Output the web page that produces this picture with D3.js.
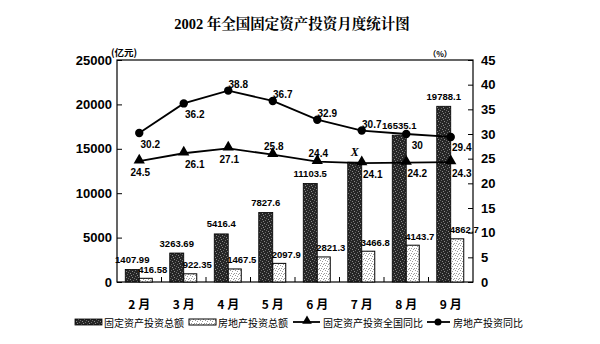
<!DOCTYPE html>
<html>
<head>
<meta charset="utf-8">
<script src="https://cdn.jsdelivr.net/npm/d3@7/dist/d3.min.js"></script>
<style>
  html, body { margin: 0; padding: 0; background: #fff; }
  svg { display: block; }
  text { fill: #000; }
</style>
</head>
<body>
<svg id="chart" width="600" height="344"></svg>
<script>
// Monthly figures, 2002
const months = ["2 月", "3 月", "4 月", "5 月", "6 月", "7 月", "8 月", "9 月"];
const fixedInvest = [1407.99, 3263.69, 5416.4, 7827.6, 11103.5, 13500, 16535.1, 19788.1];
const fixedInvestLabels = ["1407.99", "3263.69", "5416.4", "7827.6", "11103.5", "X", "16535.1", "19788.1"];
const estateInvest = [416.58, 922.35, 1467.5, 2097.9, 2821.3, 3466.8, 4143.7, 4862.7];
const estateInvestLabels = ["416.58", "922.35", "1467.5", "2097.9", "2821.3", "3466.8", "4143.7", "4862.7"];
const fixedYoY = [24.5, 26.1, 27.1, 25.8, 24.4, 24.1, 24.2, 24.3];
const estateYoY = [30.2, 36.2, 38.8, 36.7, 32.9, 30.7, 30, 29.4];
const leftTicks = [0, 5000, 10000, 15000, 20000, 25000];
const rightTicks = [0, 5, 10, 15, 20, 25, 30, 35, 40, 45];

// where each line label sits relative to its point
const estateLabelSide = ["br", "br", "ar", "ar", "ar", "ar", "br", "br"];
const fixedLabelSide = ["b", "br", "b", "a", "a", "br", "br", "br"];
const sideOffset = {
  a: [1, -8], b: [1, 11], ar: [10, -6], br: [11, 11]
};

const svg = d3.select("#chart");
const W = 600, H = 344;
const plot = { left: 117, right: 473, top: 60, bottom: 282 };
const sans = "'Liberation Sans', Arial, 'Noto Sans CJK SC', sans-serif";
const cjk = "'Noto Sans CJK SC', 'Liberation Sans', sans-serif";

svg.append("rect").attr("width", W).attr("height", H).attr("fill", "#fff");

// fill patterns for the two bar series
const defs = svg.append("defs");
const dark = defs.append("pattern").attr("id", "darkFill")
  .attr("patternUnits", "userSpaceOnUse").attr("width", 6).attr("height", 6);
dark.append("rect").attr("width", 6).attr("height", 6).attr("fill", "#262626");
[[0, 1], [3, 0], [4, 3], [1, 4], [5, 5], [2, 2]].forEach(([x, y], i) =>
  dark.append("rect").attr("x", x).attr("y", y).attr("width", 1).attr("height", 1)
    .attr("fill", i % 2 ? "#6a6a6a" : "#8a8a8a"));
const light = defs.append("pattern").attr("id", "lightFill")
  .attr("patternUnits", "userSpaceOnUse").attr("width", 5).attr("height", 5);
light.append("rect").attr("width", 5).attr("height", 5).attr("fill", "#fff");
[[0, 0], [2, 1], [4, 3], [1, 3], [3, 4]].forEach(([x, y]) =>
  light.append("rect").attr("x", x).attr("y", y).attr("width", 1).attr("height", 1)
    .attr("fill", "#9a9a9a"));

// scales
const x = d3.scaleBand().domain(months).range([plot.left, plot.right]).padding(0);
const yL = d3.scaleLinear().domain([0, 25000]).range([plot.bottom, plot.top]);
const yR = d3.scaleLinear().domain([0, 45]).range([plot.bottom, plot.top]);
const cx = m => x(m) + x.bandwidth() / 2;

// title
svg.append("text")
  .attr("x", 292).attr("y", 24)
  .attr("text-anchor", "middle").attr("dominant-baseline", "central")
  .attr("font-family", "'Liberation Serif', 'Noto Serif CJK SC', 'Noto Sans CJK SC', serif")
  .attr("font-weight", "bold").attr("font-size", 14.5)
  .text("2002 年全国固定资产投资月度统计图");

// unit labels
svg.append("text").attr("x", 111).attr("y", 52)
  .attr("dominant-baseline", "central")
  .attr("font-family", cjk).attr("font-weight", "bold").attr("font-size", 9.5)
  .text("(亿元)");
svg.append("text").attr("x", 440).attr("y", 53)
  .attr("text-anchor", "middle").attr("dominant-baseline", "central")
  .attr("font-family", cjk).attr("font-weight", "bold").attr("font-size", 8)
  .text("（%）");

// axes with inward ticks
const axL = svg.append("g").attr("transform", `translate(${plot.left},0)`)
  .call(d3.axisLeft(yL).tickValues(leftTicks).tickSize(-5).tickPadding(5).tickFormat(d3.format("d")));
const axR = svg.append("g").attr("transform", `translate(${plot.right},0)`)
  .call(d3.axisRight(yR).tickValues(rightTicks).tickSize(-5).tickPadding(8).tickFormat(d3.format("d")));
[axL, axR].forEach(g => {
  g.select(".domain").remove();
  g.selectAll(".tick line").attr("stroke", "#000").attr("stroke-width", 1);
  g.selectAll(".tick text")
    .attr("font-family", sans).attr("font-weight", "bold").attr("font-size", 13)
    .attr("fill", "#000");
});

// frame
svg.append("rect")
  .attr("x", plot.left).attr("y", plot.top)
  .attr("width", plot.right - plot.left).attr("height", plot.bottom - plot.top)
  .attr("fill", "none").attr("stroke", "#000").attr("stroke-width", 1.2);

// category separators along the bottom
svg.append("g").selectAll("line").data(months.slice(1)).join("line")
  .attr("x1", d => x(d)).attr("x2", d => x(d))
  .attr("y1", plot.bottom).attr("y2", plot.bottom - 5)
  .attr("stroke", "#000").attr("stroke-width", 1);

// month labels
svg.append("g").selectAll("text").data(months).join("text")
  .attr("x", d => cx(d)).attr("y", 303)
  .attr("text-anchor", "middle").attr("dominant-baseline", "central")
  .attr("font-family", cjk).attr("font-weight", "bold").attr("font-size", 12)
  .text(d => d);

// bars
const darkW = 14, lightW = 13;
svg.append("g").selectAll("rect").data(months).join("rect")
  .attr("x", (d, i) => cx(d) - darkW).attr("width", darkW)
  .attr("y", (d, i) => yL(fixedInvest[i]))
  .attr("height", (d, i) => plot.bottom - yL(fixedInvest[i]))
  .attr("fill", "url(#darkFill)").attr("stroke", "#000").attr("stroke-width", 0.8);
svg.append("g").selectAll("rect").data(months).join("rect")
  .attr("x", d => cx(d)).attr("width", lightW)
  .attr("y", (d, i) => yL(estateInvest[i]))
  .attr("height", (d, i) => plot.bottom - yL(estateInvest[i]))
  .attr("fill", "url(#lightFill)").attr("stroke", "#000").attr("stroke-width", 1);

// bar value labels
svg.append("g").selectAll("text").data(months).join("text")
  .attr("x", d => cx(d) - darkW / 2)
  .attr("y", (d, i) => yL(fixedInvest[i]) - 10)
  .attr("text-anchor", "middle").attr("dominant-baseline", "central")
  .attr("font-family", (d, i) => fixedInvestLabels[i] === "X" ? "'Liberation Serif', serif" : sans)
  .attr("font-style", (d, i) => fixedInvestLabels[i] === "X" ? "italic" : "normal")
  .attr("font-weight", "bold")
  .attr("font-size", (d, i) => fixedInvestLabels[i] === "X" ? 12 : 9.5)
  .text((d, i) => fixedInvestLabels[i]);
svg.append("g").selectAll("text").data(months).join("text")
  .attr("x", d => cx(d) - 1)
  .attr("y", (d, i) => yL(estateInvest[i]) - 9)
  .attr("dominant-baseline", "central")
  .attr("font-family", sans).attr("font-weight", "bold").attr("font-size", 9.5)
  .text((d, i) => estateInvestLabels[i]);

// year-on-year lines
const lineFixed = d3.line().x(d => cx(d[0])).y(d => yR(d[1]));
const fixedPts = months.map((m, i) => [m, fixedYoY[i]]);
const estatePts = months.map((m, i) => [m, estateYoY[i]]);
svg.append("path").attr("d", lineFixed(fixedPts))
  .attr("fill", "none").attr("stroke", "#000").attr("stroke-width", 1.8);
svg.append("path").attr("d", lineFixed(estatePts))
  .attr("fill", "none").attr("stroke", "#000").attr("stroke-width", 1.8);

const tri = d3.symbol().type(d3.symbolTriangle).size(55);
svg.append("g").selectAll("path").data(fixedPts).join("path")
  .attr("transform", d => `translate(${cx(d[0])},${yR(d[1]) - 1})`)
  .attr("d", tri).attr("fill", "#000");
svg.append("g").selectAll("circle").data(estatePts).join("circle")
  .attr("cx", d => cx(d[0])).attr("cy", d => yR(d[1])).attr("r", 4.2)
  .attr("fill", "#000");

// line value labels
svg.append("g").selectAll("text").data(fixedPts).join("text")
  .attr("x", (d, i) => cx(d[0]) + sideOffset[fixedLabelSide[i]][0])
  .attr("y", (d, i) => yR(d[1]) + sideOffset[fixedLabelSide[i]][1])
  .attr("text-anchor", "middle").attr("dominant-baseline", "central")
  .attr("font-family", sans).attr("font-weight", "bold").attr("font-size", 10)
  .text(d => d[1]);
svg.append("g").selectAll("text").data(estatePts).join("text")
  .attr("x", (d, i) => cx(d[0]) + sideOffset[estateLabelSide[i]][0])
  .attr("y", (d, i) => yR(d[1]) + sideOffset[estateLabelSide[i]][1])
  .attr("text-anchor", "middle").attr("dominant-baseline", "central")
  .attr("font-family", sans).attr("font-weight", "bold").attr("font-size", 10)
  .text(d => d[1]);

// legend
const lg = svg.append("g").attr("font-family", cjk).attr("font-size", 10);
const ly = 322;
lg.append("rect").attr("x", 75).attr("y", ly - 3).attr("width", 27).attr("height", 6)
  .attr("fill", "url(#darkFill)").attr("stroke", "#000").attr("stroke-width", 0.8);
lg.append("text").attr("x", 104).attr("y", ly).attr("dominant-baseline", "central")
  .text("固定资产投资总额");
lg.append("rect").attr("x", 189).attr("y", ly - 3).attr("width", 27).attr("height", 6)
  .attr("fill", "url(#lightFill)").attr("stroke", "#000").attr("stroke-width", 1);
lg.append("text").attr("x", 218).attr("y", ly).attr("dominant-baseline", "central")
  .text("房地产投资总额");
lg.append("line").attr("x1", 293).attr("x2", 320).attr("y1", ly).attr("y2", ly)
  .attr("stroke", "#000").attr("stroke-width", 1.8);
lg.append("path").attr("transform", `translate(307,${ly - 1})`)
  .attr("d", d3.symbol().type(d3.symbolTriangle).size(40)).attr("fill", "#000");
lg.append("text").attr("x", 323).attr("y", ly).attr("dominant-baseline", "central")
  .text("固定资产投资全国同比");
lg.append("line").attr("x1", 427).attr("x2", 450).attr("y1", ly).attr("y2", ly)
  .attr("stroke", "#000").attr("stroke-width", 1.8);
lg.append("circle").attr("cx", 438).attr("cy", ly).attr("r", 3.5).attr("fill", "#000");
lg.append("text").attr("x", 453).attr("y", ly).attr("dominant-baseline", "central")
  .text("房地产投资同比");
</script>
</body>
</html>
